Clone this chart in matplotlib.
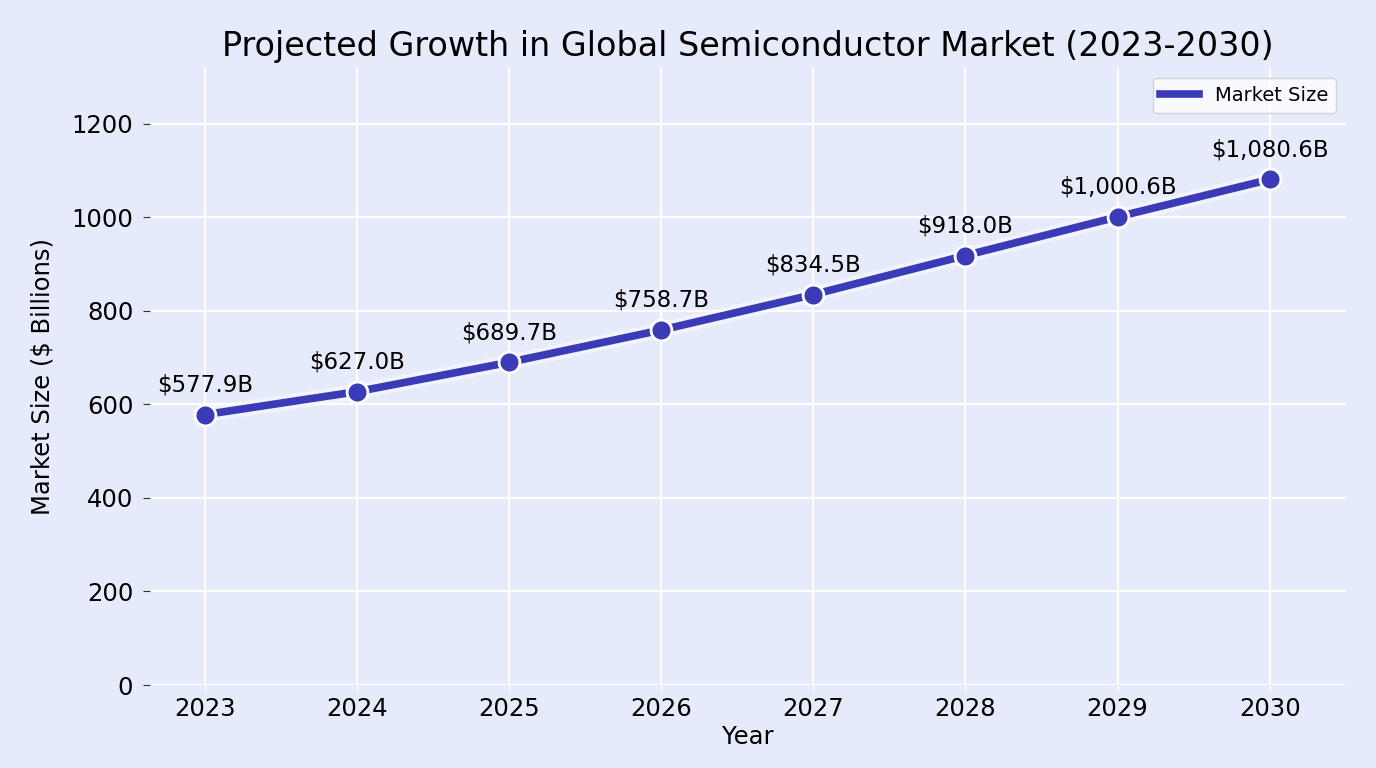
import matplotlib.pyplot as plt

years = [2023, 2024, 2025, 2026, 2027, 2028, 2029, 2030]
market_size = [577.9, 627.0, 689.7, 758.7, 834.5, 918.0, 1000.6, 1080.6]

BG = "#E6EBFB"
LINE = "#3B3BB8"

fig, ax = plt.subplots(figsize=(13.76, 7.68), dpi=100)
fig.patch.set_facecolor(BG)
ax.set_facecolor(BG)

# soft white glow under the line
ax.plot(years, market_size, color="white", lw=11, alpha=0.45, solid_capstyle="round", zorder=2)
ax.plot(years, market_size, color=LINE, lw=5.5, label="Market Size", zorder=3)
ax.plot(years, market_size, ls="none", marker="o", markersize=15, color=LINE,
        markeredgecolor="white", markeredgewidth=2, zorder=4)

for x, v in zip(years, market_size):
    ax.annotate(f"${v:,.1f}B", (x, v), textcoords="offset points", xytext=(0, 13),
                ha="center", va="bottom", fontsize=16.5, color="black")

ax.set_xlim(2022.64, 2030.5)
ax.set_ylim(0, 1318)
ax.set_yticks(range(0, 1201, 200))
ax.set_xticks(years)

ax.grid(True, color="white", lw=1.5)
ax.set_axisbelow(True)
for s in ax.spines.values():
    s.set_visible(False)
ax.tick_params(axis="y", labelsize=17.5, length=5, pad=7, color="#333333")
ax.tick_params(axis="x", labelsize=17.5, length=5, color="white")

ax.set_title("Projected Growth in Global Semiconductor Market (2023-2030)", fontsize=24, pad=9)
ax.set_xlabel("Year", fontsize=17.5, labelpad=3)
ax.set_ylabel("Market Size ($ Billions)", fontsize=17.5, labelpad=12)

leg = ax.legend(loc="upper right", fontsize=14, frameon=True, fancybox=True)
leg.get_frame().set_facecolor("white")
leg.get_frame().set_alpha(0.8)

fig.subplots_adjust(left=0.109, right=0.978, top=0.911, bottom=0.108)
fig.savefig("out.png", dpi=100, facecolor=BG)
